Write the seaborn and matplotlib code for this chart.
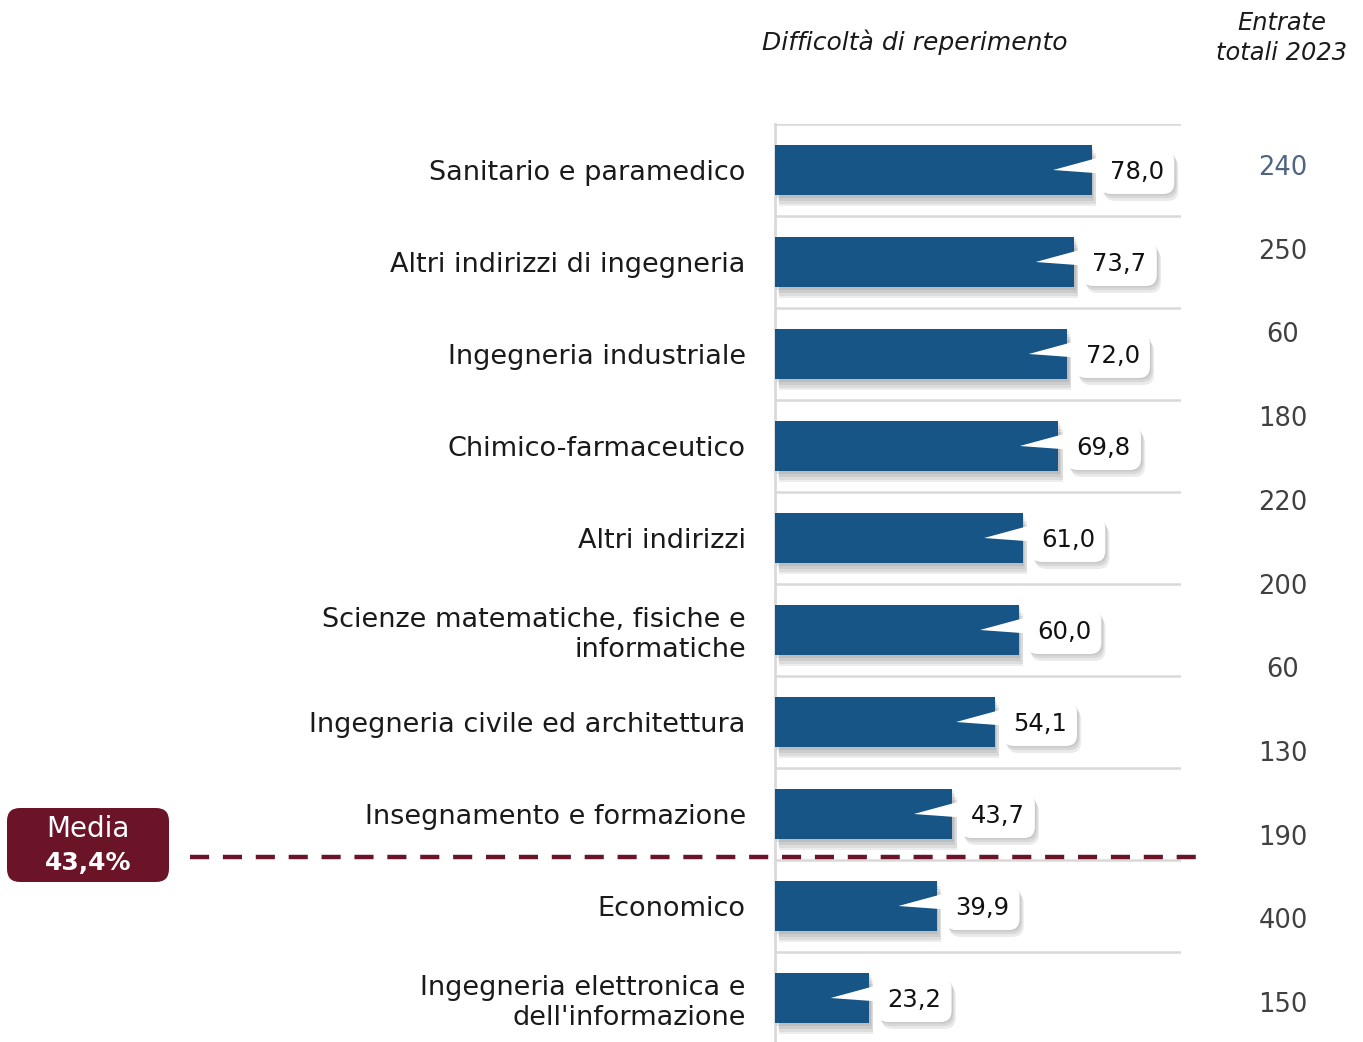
import numpy as np
import pandas as pd
import matplotlib.pyplot as plt
import matplotlib.patheffects as pe
import matplotlib.transforms as mtransforms
from matplotlib.patches import FancyBboxPatch
import seaborn as sns

# dati
categorie = [
    "Sanitario e paramedico",
    "Altri indirizzi di ingegneria",
    "Ingegneria industriale",
    "Chimico-farmaceutico",
    "Altri indirizzi",
    "Scienze matematiche, fisiche e\ninformatiche",
    "Ingegneria civile ed architettura",
    "Insegnamento e formazione",
    "Economico",
    "Ingegneria elettronica e\ndell'informazione",
]
difficolta = [78.0, 73.7, 72.0, 69.8, 61.0, 60.0, 54.1, 43.7, 39.9, 23.2]
entrate = [240, 250, 60, 180, 220, 200, 60, 130, 190, 400, 150]
media = 43.4
media_pos = 7.47  # posizione verticale della linea (tra Insegnamento ed Economico)

df = pd.DataFrame({"categoria": categorie, "difficolta": difficolta})

sns.set_theme(style="white")
plt.rcParams["font.family"] = ["DejaVu Sans"]

blu = "#175586"
bordeaux = "#6B1327"
grigio = "#D9D9D9"


def ombra_morbida(alpha=0.07, passi=((1, -2), (2, -4), (3, -6), (3, -8))):
    # ombra sfumata fatta con piu' ombre leggere
    effetti = [pe.SimplePatchShadow(offset=o, shadow_rgbFace="black", alpha=alpha) for o in passi]
    return effetti + [pe.Normal()]


W, H = 1363, 1042
fig = plt.figure(figsize=(W / 100, H / 100), dpi=100)
ax = fig.add_axes([775 / W, -2 / H, 406 / W, 920 / H])

sns.barplot(data=df, y="categoria", x="difficolta", color=blu, saturation=1,
            width=0.55, ax=ax, zorder=3, linewidth=0, edgecolor="none")
ax.set_xlim(0, 100)
ax.set_ylim(len(categorie) - 0.5, -0.5)

for p in ax.patches:
    p.set_path_effects(ombra_morbida())

# righe di separazione
ax.hlines(np.arange(-0.5, len(categorie)), 0, 100, color=grigio, lw=1.8, zorder=1)
for s in ["top", "right", "bottom"]:
    ax.spines[s].set_visible(False)
ax.spines["left"].set_color(grigio)
ax.spines["left"].set_linewidth(2)
ax.set_xlabel("")
ax.set_ylabel("")
ax.set_xticks([])
ax.tick_params(axis="y", length=0, pad=21, labelsize=19.5, labelcolor="#1a1a1a")

# etichette a fumetto
for i, v in enumerate(difficolta):
    ax.fill([v - 9.5, v + 3.0, v + 3.0], [i + 0.0, i - 0.15, i + 0.04],
            color="white", lw=0, zorder=5)
    t = ax.text(v + 4.5, i + 0.02, f"{v:.1f}".replace(".", ","), ha="left", va="center",
                fontsize=17.5, color="#111111", zorder=6,
                bbox=dict(boxstyle="round,pad=0.42,rounding_size=0.45", fc="white", ec="none"))
    t.get_bbox_patch().set_path_effects(ombra_morbida(alpha=0.08, passi=((1, -1), (2, -3), (3, -5))))

# linea della media
trans = mtransforms.blended_transform_factory(fig.transFigure, ax.transData)
ax.plot([190 / W, 1207 / W], [media_pos, media_pos], transform=trans, clip_on=False,
        color=bordeaux, lw=3.2, dashes=(4.3, 3.1), zorder=7)

box = FancyBboxPatch((0.07, (H - 882) / 100), 1.62, 0.74,
                     boxstyle="round,pad=0,rounding_size=0.13",
                     transform=fig.dpi_scale_trans, fc=bordeaux, ec="none")
fig.patches.append(box)
fig.text(88 / W, 1 - 829 / H, "Media", ha="center", va="center", color="white", fontsize=20)
fig.text(88 / W, 1 - 863 / H, f"{media:.1f}%".replace(".", ","), ha="center", va="center",
         color="white", fontsize=18, fontweight="bold")

# titoli
fig.text(915 / W, 1 - 42 / H, "Difficoltà di reperimento", ha="center", va="center",
         fontsize=18, style="italic", color="#1a1a1a")
fig.text(1282 / W, 1 - 38 / H, "Entrate\ntotali 2023", ha="center", va="center",
         fontsize=17.4, style="italic", color="#1a1a1a", linespacing=1.3)

# colonna entrate
for k, e in enumerate(entrate):
    col = "#4E6483" if k == 0 else "#404040"
    fig.text(1283 / W, 1 - (168 + 83.7 * k) / H, str(e), ha="center", va="center",
             fontsize=18.5, color=col)

fig.savefig("out.png", dpi=100)
